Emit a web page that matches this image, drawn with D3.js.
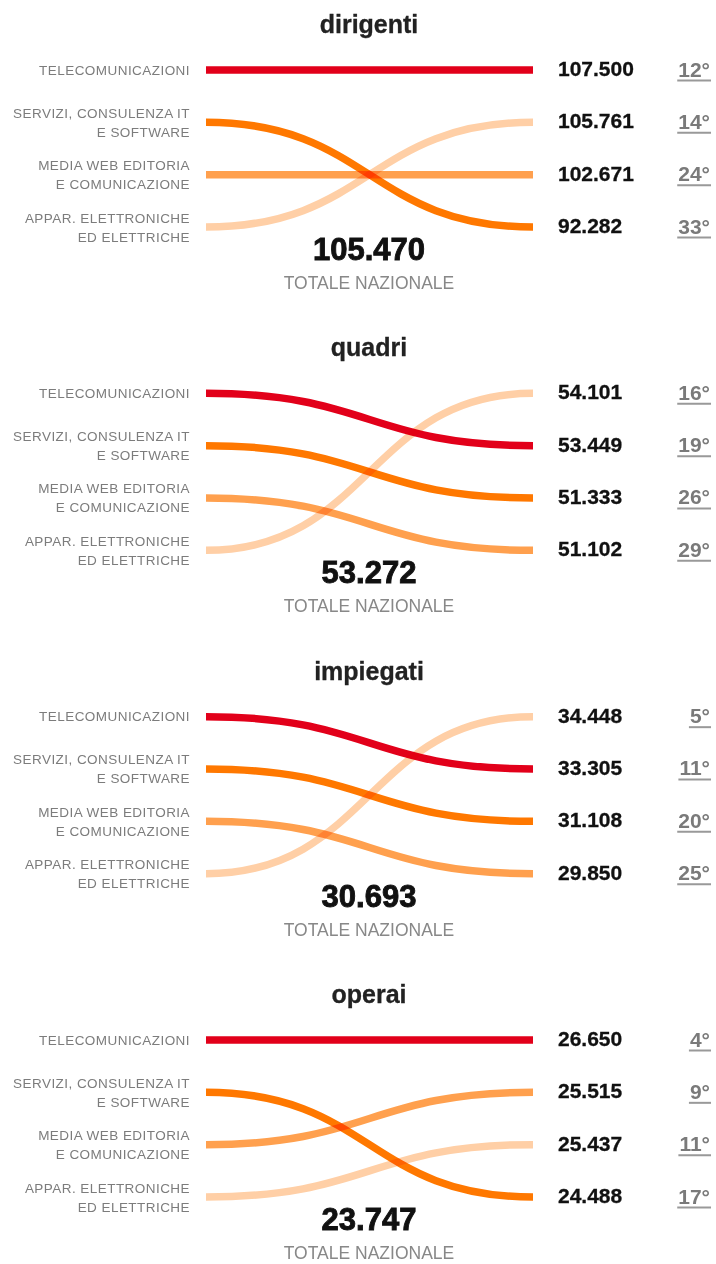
<!DOCTYPE html>
<html>
<head>
<meta charset="utf-8">
<script src="https://cdn.jsdelivr.net/npm/d3@7"></script>
<style>
  html, body { margin: 0; padding: 0; background: #fff; }
  svg { display: block; font-family: "Liberation Sans", Arial, Helvetica, sans-serif; }
</style>
</head>
<body>
<svg id="chart" width="716" height="1264"></svg>
<script>
// ---- DATA ----
const groups = ["dirigenti", "quadri", "impiegati", "operai"];
const categories = [
  ["TELECOMUNICAZIONI"],
  ["SERVIZI, CONSULENZA IT", "E SOFTWARE"],
  ["MEDIA WEB EDITORIA", "E COMUNICAZIONE"],
  ["APPAR. ELETTRONICHE", "ED ELETTRICHE"]
];
// values per group, in category order
const valDirigenti = [107500, 92282, 102671, 105761];
const valQuadri    = [53449, 51333, 51102, 54101];
const valImpiegati = [33305, 31108, 29850, 34448];
const valOperai    = [26650, 24488, 25515, 25437];
// national ranking per group, in category order
const rankDirigenti = [12, 33, 24, 14];
const rankQuadri    = [19, 26, 29, 16];
const rankImpiegati = [11, 20, 25, 5];
const rankOperai    = [4, 17, 9, 11];
const totals = [105470, 53272, 30693, 23747];

const values = [valDirigenti, valQuadri, valImpiegati, valOperai];
const ranks = [rankDirigenti, rankQuadri, rankImpiegati, rankOperai];
const colors = ["#e2001a", "#ff7800", "#ffa04e", "#ffcfa6"];

// ---- LAYOUT ----
const svg = d3.select("#chart");
const fmt = d3.formatLocale({decimal: ",", thousands: ".", grouping: [3]}).format(",d");

const panelScale = d3.scalePoint().domain(groups).range([70, 1040]);
const rowScale = d3.scalePoint().domain(d3.range(categories.length)).range([0, 157]);
const xScale = d3.scalePoint().domain(["left", "right"]).range([206, 533]);
const link = d3.linkHorizontal().x(d => d[0]).y(d => d[1]);

groups.forEach((g, gi) => {
  const top = panelScale(g);
  const gEl = svg.append("g").attr("transform", `translate(0,${top})`);
  const vals = values[gi];
  const order = d3.range(vals.length).sort((a, b) => vals[b] - vals[a]);
  const rightPos = new Array(vals.length);
  order.forEach((ci, pos) => rightPos[ci] = pos);

  // title
  gEl.append("text")
    .attr("x", 369).attr("y", -37)
    .attr("text-anchor", "middle")
    .attr("font-size", 25).attr("font-weight", "bold")
    .attr("fill", "#222").attr("stroke", "#222").attr("stroke-width", 0.3)
    .text(g);

  // left labels
  categories.forEach((lines, ci) => {
    const y = rowScale(ci);
    const t = gEl.append("text")
      .attr("text-anchor", "end")
      .attr("font-size", 13.5)
      .attr("letter-spacing", 0.45)
      .attr("fill", "#7c7c7c");
    const n = lines.length;
    lines.forEach((ln, li) => {
      const off = n === 1 ? 4.5 : (li === 0 ? -4.5 : 14.5);
      t.append("tspan").attr("x", 190).attr("y", y + off).text(ln);
    });
  });

  // curves (draw bottom categories first)
  const lineG = gEl.append("g").style("isolation", "isolate");
  d3.range(categories.length).reverse().forEach(ci => {
    lineG.append("path")
      .attr("d", link({source: [xScale("left"), rowScale(ci)], target: [xScale("right"), rowScale(rightPos[ci])]}))
      .attr("fill", "none")
      .attr("stroke", colors[ci])
      .attr("stroke-width", 7.5)
      .style("mix-blend-mode", "multiply");
  });

  // right values and ranks
  order.forEach((ci, pos) => {
    const y = rowScale(pos);
    gEl.append("text")
      .attr("x", 558).attr("y", y + 6)
      .attr("font-size", 21).attr("font-weight", "bold")
      .attr("fill", "#111").attr("stroke", "#111").attr("stroke-width", 0.3)
      .text(fmt(vals[ci]));
    const rt = gEl.append("text")
      .attr("x", 710).attr("y", y + 6.5)
      .attr("text-anchor", "end")
      .attr("font-size", 21).attr("font-weight", "bold")
      .attr("fill", "#7a7a7a")
      .text(ranks[gi][ci] + "°");
    const w = rt.node().getComputedTextLength();
    gEl.append("line")
      .attr("x1", 711 - w - 2).attr("x2", 711)
      .attr("y1", y + 10.5).attr("y2", y + 10.5)
      .attr("stroke", "#999").attr("stroke-width", 2);
  });

  // national total
  const lastY = rowScale(categories.length - 1);
  gEl.append("text")
    .attr("x", 369).attr("y", lastY + 33)
    .attr("text-anchor", "middle")
    .attr("font-size", 31).attr("font-weight", "bold")
    .attr("fill", "#111").attr("stroke", "#111").attr("stroke-width", 0.9)
    .text(fmt(totals[gi]));
  gEl.append("text")
    .attr("x", 369).attr("y", lastY + 62)
    .attr("text-anchor", "middle")
    .attr("font-size", 17.5)
    .attr("fill", "#888")
    .text("TOTALE NAZIONALE");
});
</script>
</body>
</html>
